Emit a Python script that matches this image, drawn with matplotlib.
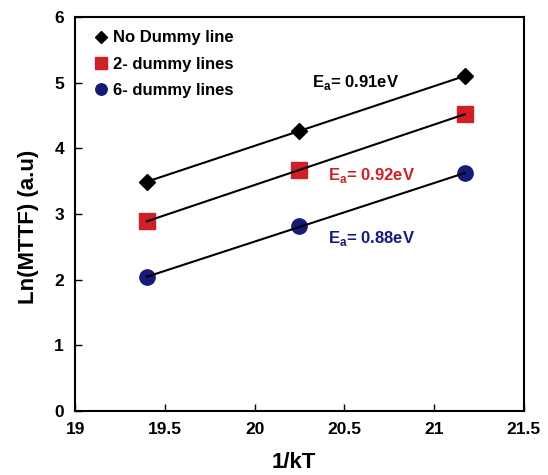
import matplotlib
matplotlib.use("Agg")
import matplotlib.pyplot as plt
import numpy as np

plt.rcParams['font.family'] = ['Liberation Sans', 'DejaVu Sans']
plt.rcParams['font.weight'] = 'bold'

inv_kT = [19.40, 20.25, 21.17]
no_dummy = [3.49, 4.27, 5.10]
dummy2 = [2.89, 3.67, 4.52]
dummy6 = [2.04, 2.81, 3.62]
labels = ["No Dummy line", "2- dummy lines", "6- dummy lines"]
ea_texts = ["0.91eV", "0.92eV", "0.88eV"]

fig = plt.figure(figsize=(5.48, 4.75), dpi=100)
ax = fig.add_axes([0.137, 0.135, 0.819, 0.829])

series = [no_dummy, dummy2, dummy6]
markers = ['D', 's', 'o']
colors = ['black', '#d01f26', '#161a78']
sizes = [8, 11, 11]
x = np.array(inv_kT)
for ys, m, c, s, lab in zip(series, markers, colors, sizes, labels):
    ax.plot(x, ys, linestyle='none', marker=m, color=c, markersize=s, label=lab, zorder=3)
    p = np.polyfit(x, ys, 1)
    xx = np.array([x[0], x[-1]])
    ax.plot(xx, np.polyval(p, xx), color='black', lw=1.5, zorder=4)

ax.set_xlim(19, 21.5)
ax.set_ylim(0, 6)
ax.set_xticks([19, 19.5, 20, 20.5, 21, 21.5])
ax.set_xticklabels(['19', '19.5', '20', '20.5', '21', '21.5'])
ax.set_yticks([0, 1, 2, 3, 4, 5, 6])
ax.tick_params(direction='in', length=5, width=1, labelsize=12.5, pad=8)
for lab in ax.get_xticklabels() + ax.get_yticklabels():
    lab.set_fontweight('bold')
for sp in ax.spines.values():
    sp.set_linewidth(1.5)

ax.set_xlabel('1/kT', fontsize=16, fontweight='bold')
ax.set_ylabel('Ln(MTTF) (a.u)', fontsize=16, fontweight='bold')
ax.xaxis.set_label_coords(0.488, -0.105)
ax.yaxis.set_label_coords(-0.08, 0.467)

ax.text(20.32, 4.93, r'E$_\mathregular{a}$= ' + ea_texts[0], fontsize=12, fontweight='bold',
        color=colors[0], va='baseline')
ax.text(20.41, 3.52, r'E$_\mathregular{a}$= ' + ea_texts[1], fontsize=12, fontweight='bold',
        color=colors[1], va='baseline')
ax.text(20.41, 2.56, r'E$_\mathregular{a}$= ' + ea_texts[2], fontsize=12, fontweight='bold',
        color=colors[2], va='baseline')

leg = ax.legend(loc='upper left', frameon=False, fontsize=12, handlelength=0.8,
                handletextpad=0.35, labelspacing=0.68, borderaxespad=0.4,
                markerscale=0.75, bbox_to_anchor=(0.013, 1.0))
for t in leg.get_texts():
    t.set_fontweight('bold')

fig.savefig('out.png', dpi=100)
